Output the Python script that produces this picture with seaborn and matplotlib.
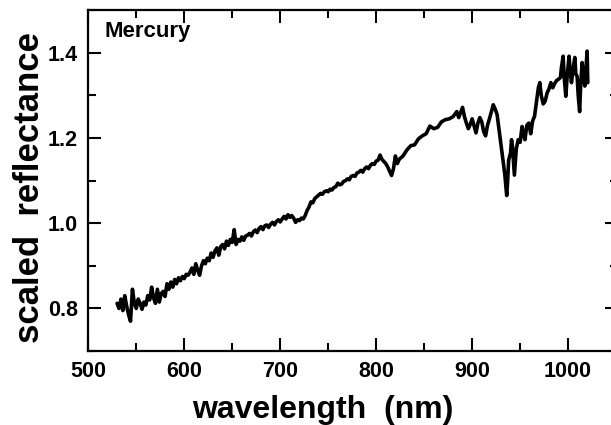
import numpy as np
import matplotlib
matplotlib.use('Agg')
import matplotlib.pyplot as plt
from matplotlib.ticker import MultipleLocator
import pandas as pd
import seaborn as sns

# Mercury spectrum, values
wavelength = [530, 532, 534, 536, 538, 540, 542, 544, 546, 548,
              550, 552, 554, 556, 558, 560, 562, 564, 566, 568,
              570, 572, 574, 576, 578, 580, 582, 584, 586, 588,
              590, 592, 594, 596, 598, 600, 602, 604, 606, 608,
              610, 612, 614, 616, 618, 620, 622, 624, 626, 628,
              630, 632, 634, 636, 638, 640, 642, 644, 646, 648,
              650, 652, 654, 656, 658, 660, 662, 664, 666, 668,
              670, 672, 674, 676, 678, 680, 682, 684, 686, 688,
              690, 692, 694, 696, 698, 700, 702, 704, 706, 708,
              710, 712, 714, 716, 718, 720, 722, 724, 726, 728,
              730, 732, 734, 736, 738, 740, 742, 744, 746, 748,
              750, 752, 754, 756, 758, 760, 762, 764, 766, 768,
              770, 772, 774, 776, 778, 780, 782, 784, 786, 788,
              790, 792, 794, 796, 798, 800, 802, 804, 806, 808,
              810, 812, 814, 816, 818, 820, 822, 824, 828, 832,
              836, 840, 844, 848, 852, 856, 860, 864, 868, 872,
              876, 880, 884, 886, 888, 890, 892, 894, 896, 898,
              900, 902, 904, 906, 908, 910, 912, 914, 916, 918,
              920, 922, 924, 926, 928, 930, 932, 934, 936, 937,
              938, 940, 941, 942, 944, 946, 948, 950, 952, 954,
              955, 957, 959, 961, 963, 965, 967, 969, 970.5, 972,
              974, 976, 978, 980, 982, 984, 986, 988, 990, 992,
              993, 994.8, 996, 997.6, 999, 1001, 1002, 1003.5, 1005, 1007,
              1008, 1009.4, 1010.5, 1012, 1013, 1014.6, 1016, 1017.4, 1018.5, 1019.8,
              1020.5]

reflectance = [0.812, 0.800, 0.822, 0.795, 0.830, 0.805, 0.785, 0.770, 0.845, 0.812,
               0.800, 0.822, 0.812, 0.798, 0.815, 0.808, 0.830, 0.820, 0.850, 0.825,
               0.812, 0.845, 0.815, 0.835, 0.840, 0.828, 0.858, 0.845, 0.862, 0.850,
               0.868, 0.858, 0.872, 0.865, 0.875, 0.870, 0.880, 0.878, 0.885, 0.895,
               0.880, 0.905, 0.890, 0.878, 0.900, 0.912, 0.905, 0.918, 0.912, 0.930,
               0.920, 0.935, 0.942, 0.925, 0.945, 0.950, 0.940, 0.958, 0.948, 0.962,
               0.955, 0.985, 0.950, 0.962, 0.958, 0.968, 0.960, 0.970, 0.972, 0.976,
               0.970, 0.980, 0.984, 0.978, 0.988, 0.992, 0.985, 0.994, 0.996, 0.990,
               0.998, 1.002, 0.996, 1.004, 1.008, 1.003, 1.010, 1.016, 1.010, 1.020,
               1.014, 1.018, 1.012, 1.002, 1.008, 1.006, 1.012, 1.010, 1.018, 1.030,
               1.038, 1.050, 1.048, 1.058, 1.062, 1.066, 1.070, 1.068, 1.074, 1.076,
               1.074, 1.080, 1.078, 1.084, 1.086, 1.094, 1.090, 1.092, 1.098, 1.100,
               1.104, 1.102, 1.110, 1.112, 1.110, 1.118, 1.120, 1.124, 1.120, 1.128,
               1.132, 1.128, 1.136, 1.140, 1.138, 1.146, 1.148, 1.160, 1.150, 1.145,
               1.140, 1.132, 1.122, 1.112, 1.128, 1.158, 1.140, 1.150, 1.158, 1.172,
               1.182, 1.184, 1.198, 1.205, 1.210, 1.228, 1.222, 1.225, 1.238, 1.243,
               1.245, 1.250, 1.262, 1.248, 1.260, 1.272, 1.250, 1.235, 1.222, 1.232,
               1.245, 1.228, 1.212, 1.235, 1.248, 1.238, 1.215, 1.205, 1.230, 1.245,
               1.262, 1.278, 1.268, 1.255, 1.220, 1.185, 1.150, 1.115, 1.065, 1.100,
               1.148, 1.165, 1.196, 1.180, 1.113, 1.175, 1.196, 1.190, 1.227, 1.205,
               1.196, 1.230, 1.235, 1.210, 1.240, 1.251, 1.285, 1.318, 1.330, 1.300,
               1.280, 1.286, 1.305, 1.315, 1.330, 1.318, 1.328, 1.335, 1.338, 1.342,
               1.365, 1.392, 1.340, 1.298, 1.345, 1.392, 1.360, 1.330, 1.360, 1.389,
               1.350, 1.345, 1.300, 1.262, 1.320, 1.377, 1.340, 1.322, 1.360, 1.404,
               1.330]

assert len(wavelength) == len(reflectance)
df = pd.DataFrame({'wavelength': wavelength, 'reflectance': reflectance})

sns.set_style('ticks')
plt.rcParams['font.family'] = ['Liberation Sans', 'DejaVu Sans']
plt.rcParams['font.weight'] = 'bold'
plt.rcParams['text.color'] = 'black'
plt.rcParams['axes.labelcolor'] = 'black'
plt.rcParams['xtick.color'] = 'black'
plt.rcParams['ytick.color'] = 'black'

fig = plt.figure(figsize=(6.11, 4.25), dpi=100)
ax = fig.add_axes([0.1445, 0.174, 0.867, 0.802])

sns.lineplot(data=df, x='wavelength', y='reflectance', color='black',
             lw=2.6, estimator=None, ax=ax)

ax.set_xlim(500, 1052)
ax.set_ylim(0.7, 1.5)
ax.set_xticks([500, 600, 700, 800, 900, 1000])
ax.set_yticks([0.8, 1.0, 1.2, 1.4])
ax.xaxis.set_minor_locator(MultipleLocator(50))
ax.yaxis.set_minor_locator(MultipleLocator(0.1))
ax.tick_params(which='both', direction='in', top=True, right=True,
               width=1.5, color='black')
ax.tick_params(which='major', length=9.5, labelsize=15.5, pad=7.5)
ax.tick_params(which='minor', length=6)
for s in ax.spines.values():
    s.set_linewidth(1.6)
    s.set_color('black')

ax.set_xlabel('wavelength  (nm)', fontsize=23, fontweight='bold')
ax.set_ylabel('scaled  reflectance', fontsize=25, fontweight='bold')
ax.xaxis.set_label_coords(0.442, -0.128)
ax.yaxis.set_label_coords(-0.080, 0.479)

ax.text(0.0315, 0.968, 'Mercury', transform=ax.transAxes, ha='left', va='top',
        fontsize=16, fontweight='bold')

fig.savefig('out.png', dpi=100)
